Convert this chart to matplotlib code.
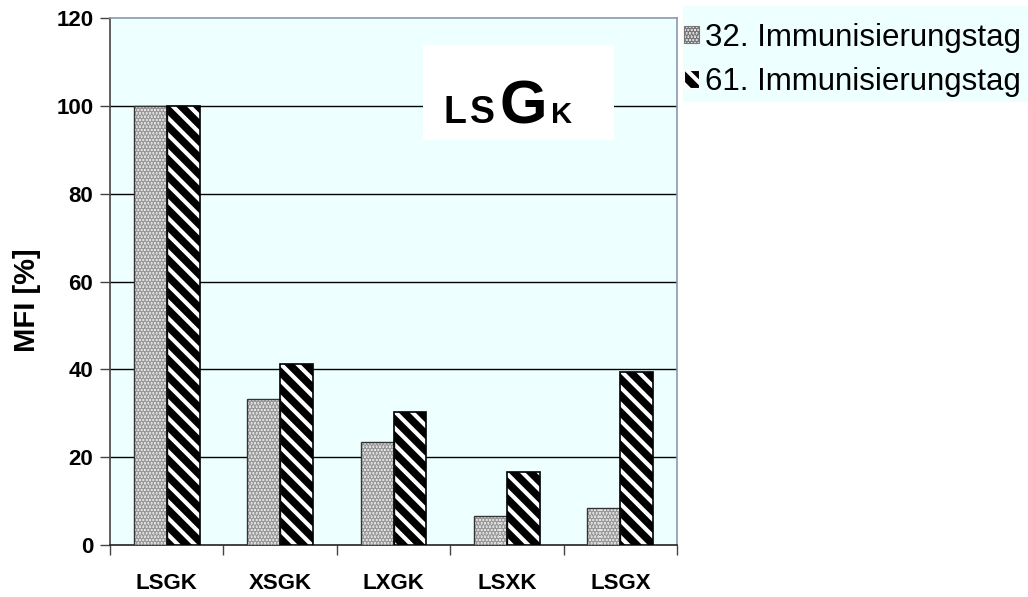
import numpy as np
import matplotlib
matplotlib.use("Agg")
import matplotlib.pyplot as plt
from matplotlib.patches import Patch, Rectangle
from matplotlib.transforms import offset_copy

plt.rcParams['font.family'] = ['Liberation Sans', 'DejaVu Sans']
plt.rcParams['hatch.linewidth'] = 3.0

categories = ["LSGK", "XSGK", "LXGK", "LSXK", "LSGX"]
day32 = [100.0, 33.2, 23.4, 6.6, 8.4]
day61 = [100.0, 41.2, 30.3, 16.6, 39.3]
series_labels = ["32. Immunisierungstag", "61. Immunisierungstag"]
yticks = [0, 20, 40, 60, 80, 100, 120]
inset_letters = ["L", "S", "G", "K"]
inset_sizes = [27, 27, 44, 21]

fig = plt.figure(figsize=(10.28, 5.97), dpi=100)
ax = fig.add_axes([0.107, 0.0871, 0.5516, 0.8827])
ax.set_facecolor('#EEFFFF')

x = np.arange(len(categories))
w = 0.29
stripe = '\\' * 2

ax.bar(x - w / 2, day32, w, facecolor='#eeeeee', edgecolor='#999999',
       hatch='.....', linewidth=0, zorder=3)
ax.bar(x - w / 2, day32, w, fill=False, edgecolor='#333333', linewidth=1.0, zorder=4)
ax.bar(x + w / 2, day61, w, facecolor='black', edgecolor='white',
       hatch=stripe, linewidth=0, zorder=3)
ax.bar(x + w / 2, day61, w, fill=False, edgecolor='black', linewidth=1.2, zorder=4)

ax.set_xlim(-0.5, len(categories) - 0.5)
ax.set_ylim(0, 120)
ax.set_yticks(yticks)
ax.set_yticklabels([str(v) for v in yticks], fontsize=16, fontweight='bold')
ax.set_xticks(x)
ax.set_xticklabels(categories, fontsize=16, fontweight='bold')
ax.set_xticks(np.arange(-0.5, len(categories)), minor=True)
ax.tick_params(axis='x', which='major', length=0, pad=20)
ax.tick_params(axis='x', which='minor', length=7, width=1, direction='out', color='#444444')
ax.tick_params(axis='y', length=7, width=1, direction='out', pad=5, color='#444444')

for v in yticks[1:-1]:
    ax.axhline(v, color='black', linewidth=1.0, zorder=1)

ax.spines['left'].set_color('#444444')
ax.spines['bottom'].set_color('#222222')
ax.spines['top'].set_color('#8899AA')
ax.spines['right'].set_color('#8899AA')
for s in ax.spines.values():
    s.set_linewidth(1.2)

ax.set_ylabel('MFI [%]', fontsize=21, fontweight='bold')
ax.yaxis.set_label_coords(-0.122, 0.465)

# inset label box
ax.add_patch(Rectangle((0.552, 0.768), 0.337, 0.18, transform=ax.transAxes,
                       facecolor='white', edgecolor='none', zorder=2))
renderer = fig.canvas.get_renderer()
base_y = 0.80
offset = 0.0
for letter, size in zip(inset_letters, inset_sizes):
    tr = offset_copy(ax.transAxes, fig=fig, x=offset * 72 / fig.dpi, y=0, units='points')
    t = ax.text(0.5875, base_y, letter, transform=tr, fontsize=size, fontweight='bold',
                va='baseline', ha='left', zorder=5)
    bb = t.get_window_extent(renderer)
    offset += bb.width + 4

# legend background
fig.patches.append(Rectangle((0.664, 0.829), 0.336, 0.161, transform=fig.transFigure,
                             facecolor='#EEFFFF', edgecolor='none', zorder=0))

leg_handles = [Patch(facecolor='#eeeeee', edgecolor='#777777', hatch='.....', linewidth=0.8),
               Patch(facecolor='black', edgecolor='white', hatch='\\\\', linewidth=0.8)]
leg = fig.legend(leg_handles, series_labels, loc='upper left', bbox_to_anchor=(0.665, 0.962),
                 frameon=False, fontsize=22.5, handlelength=0.5, handleheight=0.5,
                 handletextpad=0.2, labelspacing=0.45, borderaxespad=0, borderpad=0)

fig.savefig('out.png', dpi=100, facecolor='white')
